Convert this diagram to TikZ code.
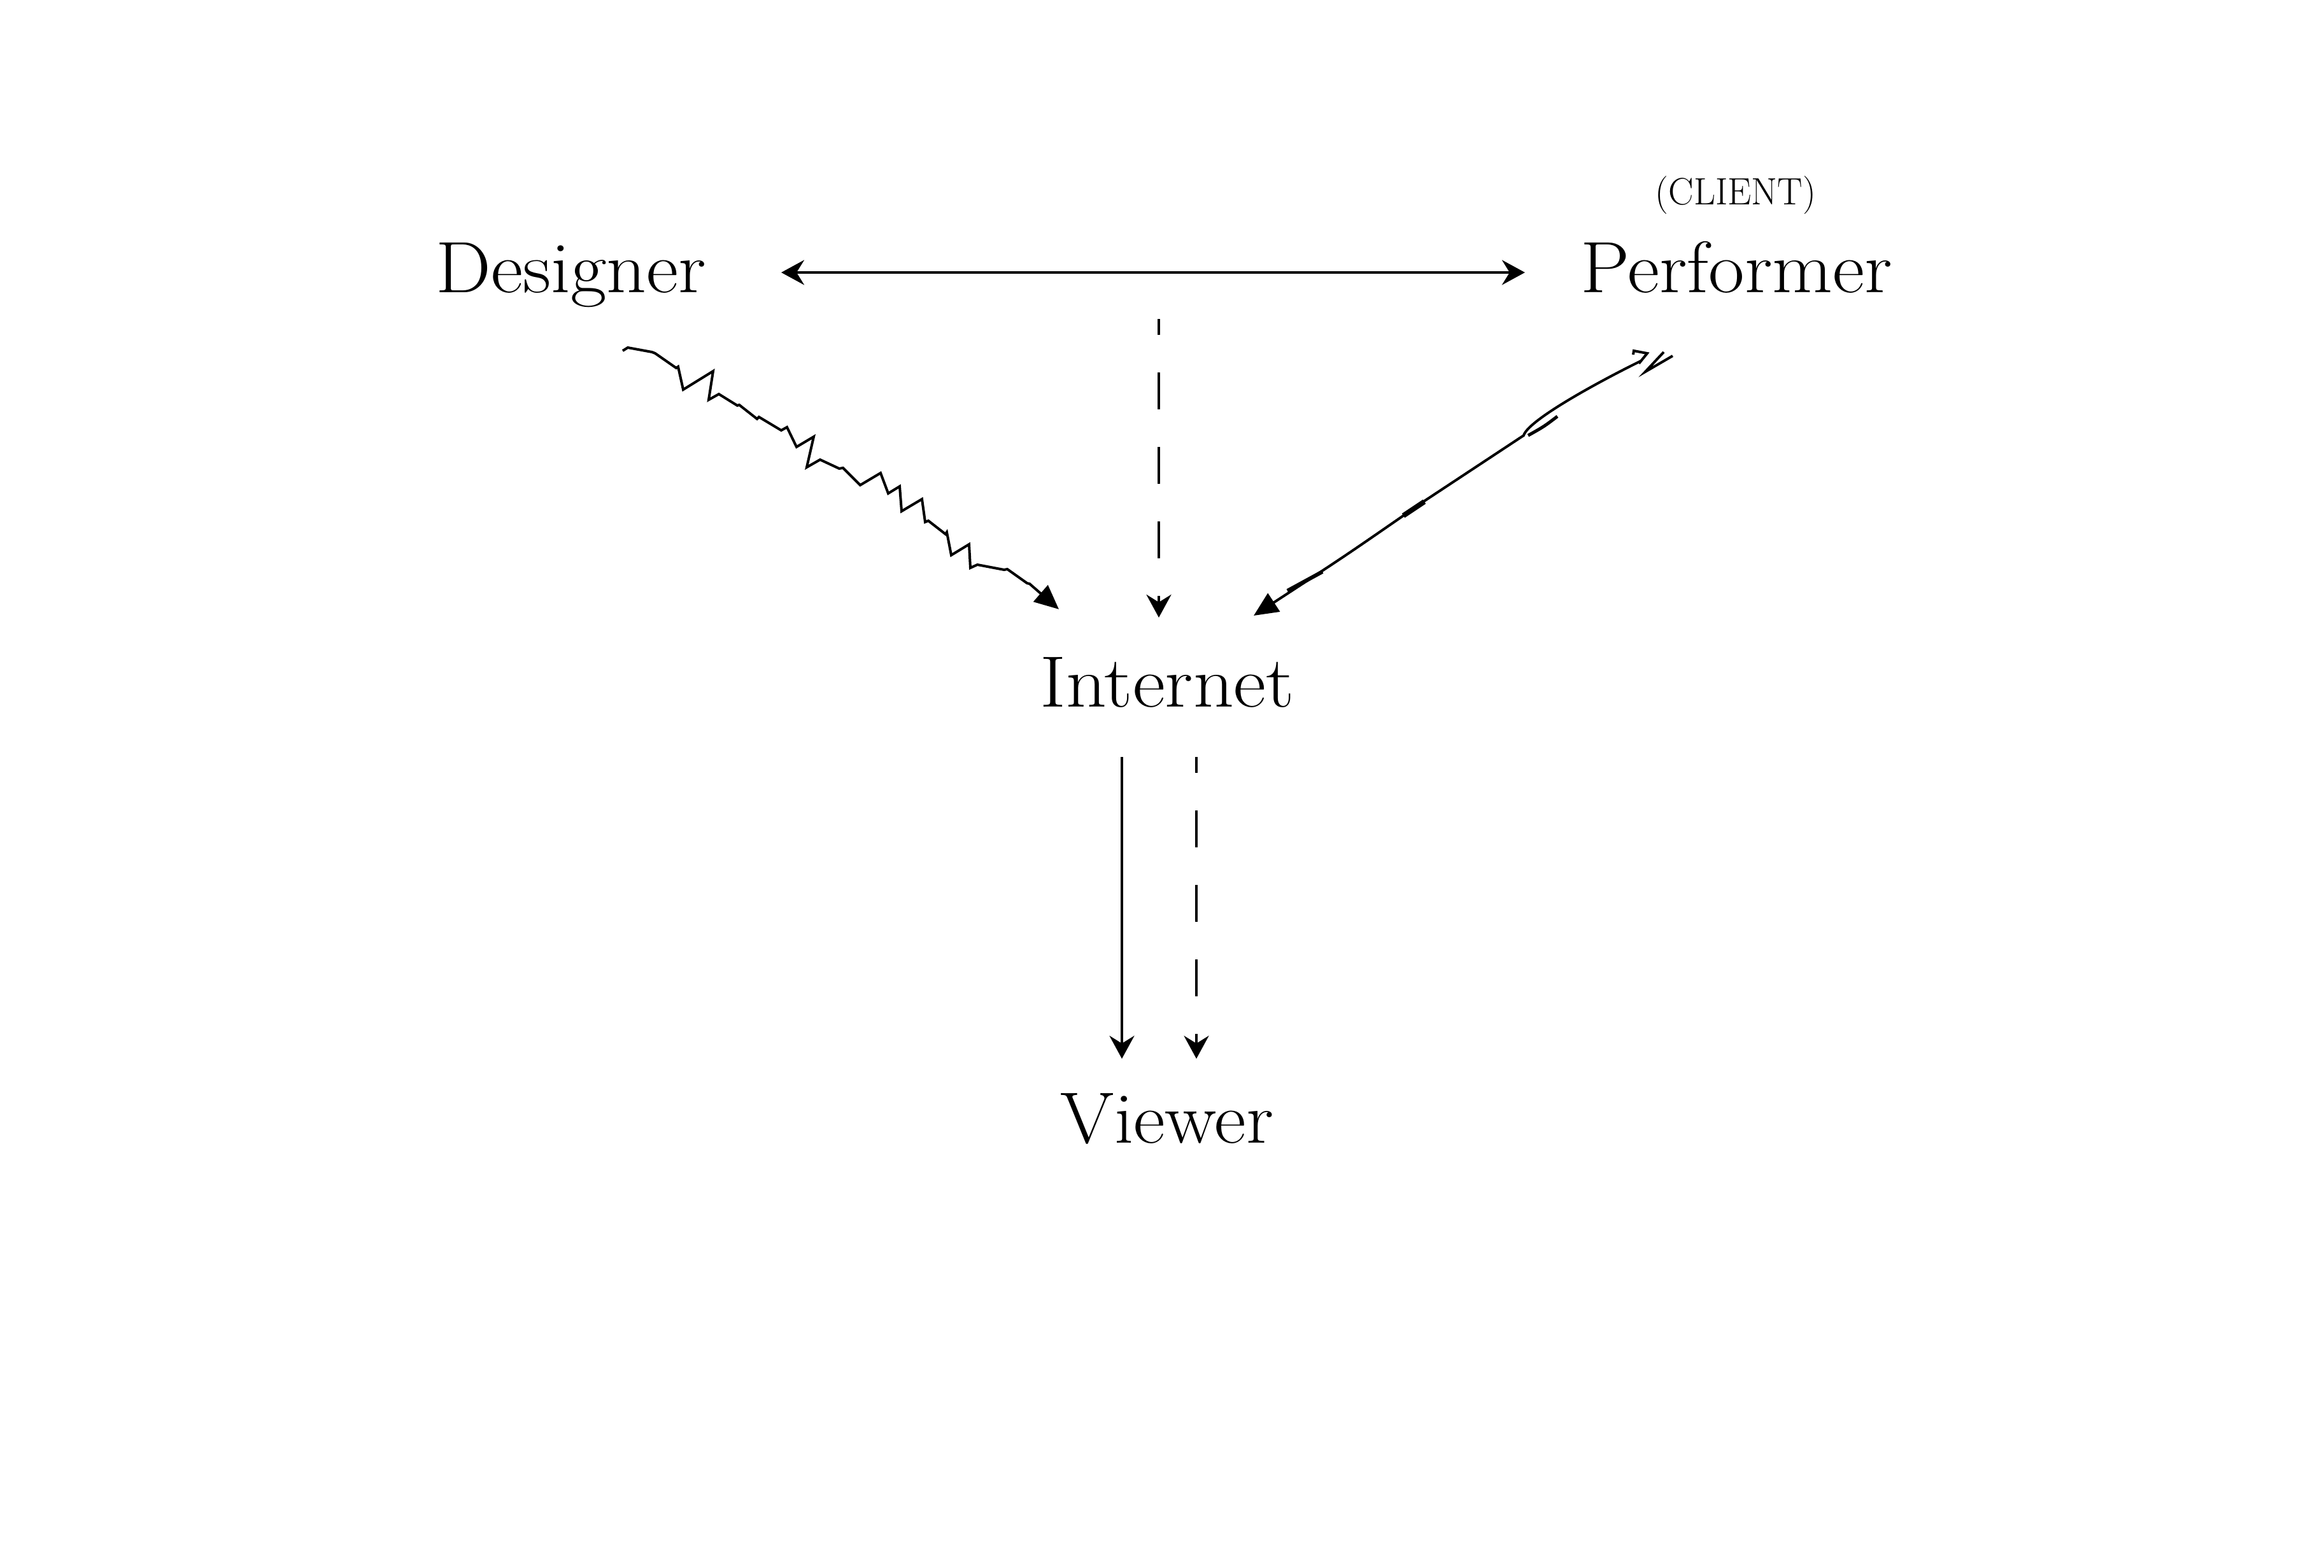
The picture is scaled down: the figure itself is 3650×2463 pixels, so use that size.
\documentclass[tikz,border=0pt]{standalone}
\usetikzlibrary{arrows.meta}
\begin{document}
\begin{tikzpicture}[x=0.01cm,y=-0.01cm,line width=0.04cm,
  lbl/.style={inner sep=0pt,anchor=base,font=\fontsize{32.5}{36}\selectfont},
  sm/.style={inner sep=0pt,anchor=base,font=\fontsize{17}{20}\selectfont},
  stl/.style={-{Stealth[length=0.36cm,width=0.39cm,inset=0.12cm]}},
  dstl/.style={{Stealth[length=0.36cm,width=0.39cm,inset=0.12cm]}-{Stealth[length=0.36cm,width=0.39cm,inset=0.12cm]}},
  tri/.style={-{Triangle[length=0.38cm,width=0.34cm]}},
  dsh/.style={dash pattern=on 0.58cm off 0.59cm}]
\useasboundingbox (0,0) rectangle (3650,2463);
\fill[white] (0,0) rectangle (3650,2463);
% nodes
\node[lbl] (des) at (897,459) {\scalebox{1.075}[1]{Designer}};
\node[lbl] (per) at (2727,459) {\scalebox{1.075}[1]{Performer}};
\node[sm]  (cli) at (2726,321) {\scalebox{0.99}[1]{(CLIENT)}};
\node[lbl] (int) at (1833,1110) {\scalebox{1.093}[1]{Internet}};
\node[lbl] (vie) at (1833,1795) {\scalebox{1.064}[1]{Viewer}};
% connector end points
\coordinate (hL) at (1227,428);
\coordinate (hR) at (2395,428);
\coordinate (dT) at (1820,501);
\coordinate (dB) at (1820,970);
\coordinate (zS) at (978,551);
\coordinate (zE) at (1663,957);
\coordinate (pS) at (2577,567);
\coordinate (pE) at (1969,967);
\coordinate (vA) at (1762,1189);
\coordinate (vB) at (1762,1663);
\coordinate (wA) at (1879,1189);
\coordinate (wB) at (1879,1663);
% designer <-> performer
\draw[dstl] (hL) -- (hR);
% dashed to internet
\draw[dsh,dash phase=0.33cm,stl] (dT) -- (dB);
% zigzag designer -> internet
\draw[tri] (zS) -- (986,546) -- (1024,553) -- (1029,555) -- (1062,578) -- (1065,576)
  -- (1073,612) -- (1120,583) -- (1113,628) -- (1129,619) -- (1158,637) -- (1161,636)
  -- (1189,658) -- (1192,655) -- (1227,676) -- (1236,671) -- (1251,702) -- (1278,686)
  -- (1267,734) -- (1288,722) -- (1318,736) -- (1324,735) -- (1351,762) -- (1383,743)
  -- (1395,775) -- (1413,764) -- (1416,803) -- (1448,784) -- (1453,820) -- (1458,818)
  -- (1485,839) -- (1487,836) -- (1494,872) -- (1522,855) -- (1524,892) -- (1535,887)
  -- (1577,895) -- (1582,894) -- (1613,916) -- (1617,917) -- (zE);
% sketchy performer -> internet
\draw[tri] (pS) .. controls (2510,600) and (2400,660) .. (2393,684)
  -- (2237,787) -- (2204,810) .. controls (2110,875) .. (pE);
\draw (2565,557) -- (2566,551) -- (2587,555) -- (2574,571);
\draw (2613,553) -- (2584,584) -- (2627,559);
\draw[line width=0.05cm] (2446,654) .. controls (2425,670) .. (2400,684);
\draw[line width=0.08cm] (2204,810) -- (2237,788);
\draw[line width=0.06cm] (2077,898) -- (2022,928);
% internet -> viewer
\draw[stl] (vA) -- (vB);
\draw[dsh,dash phase=0.33cm,stl] (wA) -- (wB);
\end{tikzpicture}
\end{document}
